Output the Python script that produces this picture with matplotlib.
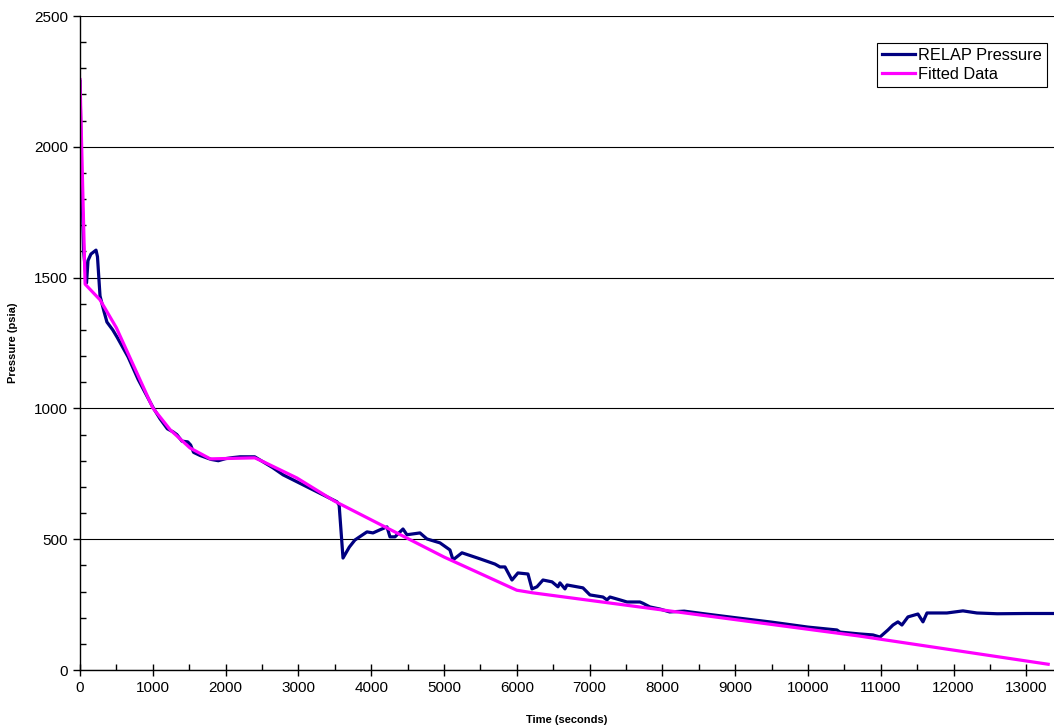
import numpy as np
import matplotlib.pyplot as plt
from matplotlib.ticker import MultipleLocator

plt.rcParams['font.family'] = ['Liberation Sans', 'DejaVu Sans']

# RELAP pressure trace
relap_t = [0, 20, 50, 90, 110, 150, 220, 240, 275, 330, 370, 450, 510, 660, 800,
           1000, 1100, 1200, 1280, 1330, 1400, 1480, 1520, 1560, 1650, 1800, 1900,
           2000, 2100, 2200, 2400, 2650, 2790, 3120, 3530, 3560, 3613, 3700, 3777,
           3942, 4025, 4121, 4217, 4258, 4327, 4437, 4491, 4670, 4766, 4945, 5082,
           5124, 5247, 5494, 5700, 5769, 5838, 5934, 6016, 6154, 6209, 6277, 6360,
           6484, 6566, 6593, 6662, 6690, 6909, 7005, 7184, 7239, 7280, 7418, 7514,
           7692, 7734, 7830, 7967, 8100, 8300, 8600, 9000, 9500, 10000, 10398,
           10440, 10700, 10893, 10989, 11099, 11168, 11236, 11291, 11374, 11511,
           11580, 11635, 11909, 12129, 12321, 12600, 13000, 13380]
relap_p = [2250, 1900, 1600, 1480, 1565, 1590, 1605, 1580, 1430, 1370, 1330, 1300,
           1272, 1197, 1110, 1005, 960, 922, 910, 900, 875, 872, 860, 832, 820, 805,
           800, 808, 812, 815, 815, 773, 746, 700, 643, 630, 428, 470, 497, 528,
           524, 536, 547, 509, 509, 539, 517, 524, 501, 486, 459, 421, 448, 425,
           405, 394, 394, 344, 371, 367, 310, 318, 344, 337, 318, 333, 310, 325,
           314, 287, 279, 268, 279, 268, 260, 260, 255, 241, 233, 222, 225, 214,
           200, 183, 164, 153, 145, 138, 134, 126, 153, 172, 184, 172, 203, 214,
           184, 218, 218, 226, 218, 215, 216, 216]

# fitted piecewise curve
fit_t = [0, 70, 275, 500, 1000, 1240, 1510, 1790, 2400, 2520, 2980, 3500, 5000,
         6000, 6220, 10700, 13300]
fit_p = [2257, 1475, 1415, 1308, 1002, 918, 849, 807, 811, 796, 734, 645, 432,
         305, 295, 130, 22]

fig = plt.figure(figsize=(10.54, 7.28), dpi=100)
ax = fig.add_axes([80 / 1054, 58 / 728, 974 / 1054, 654 / 728])

ax.plot(relap_t, relap_p, color='#000080', lw=2.3, label='RELAP Pressure')
ax.plot(fit_t, fit_p, color='#FF00FF', lw=2.3, label='Fitted Data')

ax.set_xlim(0, 13380)
ax.set_ylim(0, 2500)
ax.xaxis.set_major_locator(MultipleLocator(1000))
ax.xaxis.set_minor_locator(MultipleLocator(500))
ax.yaxis.set_major_locator(MultipleLocator(500))
ax.yaxis.set_minor_locator(MultipleLocator(100))
ax.tick_params(which='major', direction='out', length=5, width=1, labelsize=11, color='black')
ax.tick_params(axis='x', which='major', direction='inout', length=9)
ax.tick_params(which='minor', direction='in', length=4, width=1)

ax.grid(axis='y', which='major', color='black', lw=0.8)
ax.set_axisbelow(True)
for s in ['top', 'right']:
    ax.spines[s].set_visible(False)
for s in ['left', 'bottom']:
    ax.spines[s].set_linewidth(1.0)

ax.set_xlabel('Time (seconds)', fontsize=8, fontweight='bold', labelpad=14)
ax.set_ylabel('Pressure (psia)', fontsize=8, fontweight='bold', labelpad=12)

leg = ax.legend(loc='upper right', bbox_to_anchor=(1047 / 1054, 685 / 728),
                bbox_transform=fig.transFigure, fontsize=11.8, fancybox=False,
                framealpha=1, edgecolor='black', handlelength=2.0,
                handletextpad=0.2, borderpad=0.3, labelspacing=0.25, borderaxespad=0)
leg.get_frame().set_linewidth(0.8)

fig.savefig('out.png', dpi=100)
